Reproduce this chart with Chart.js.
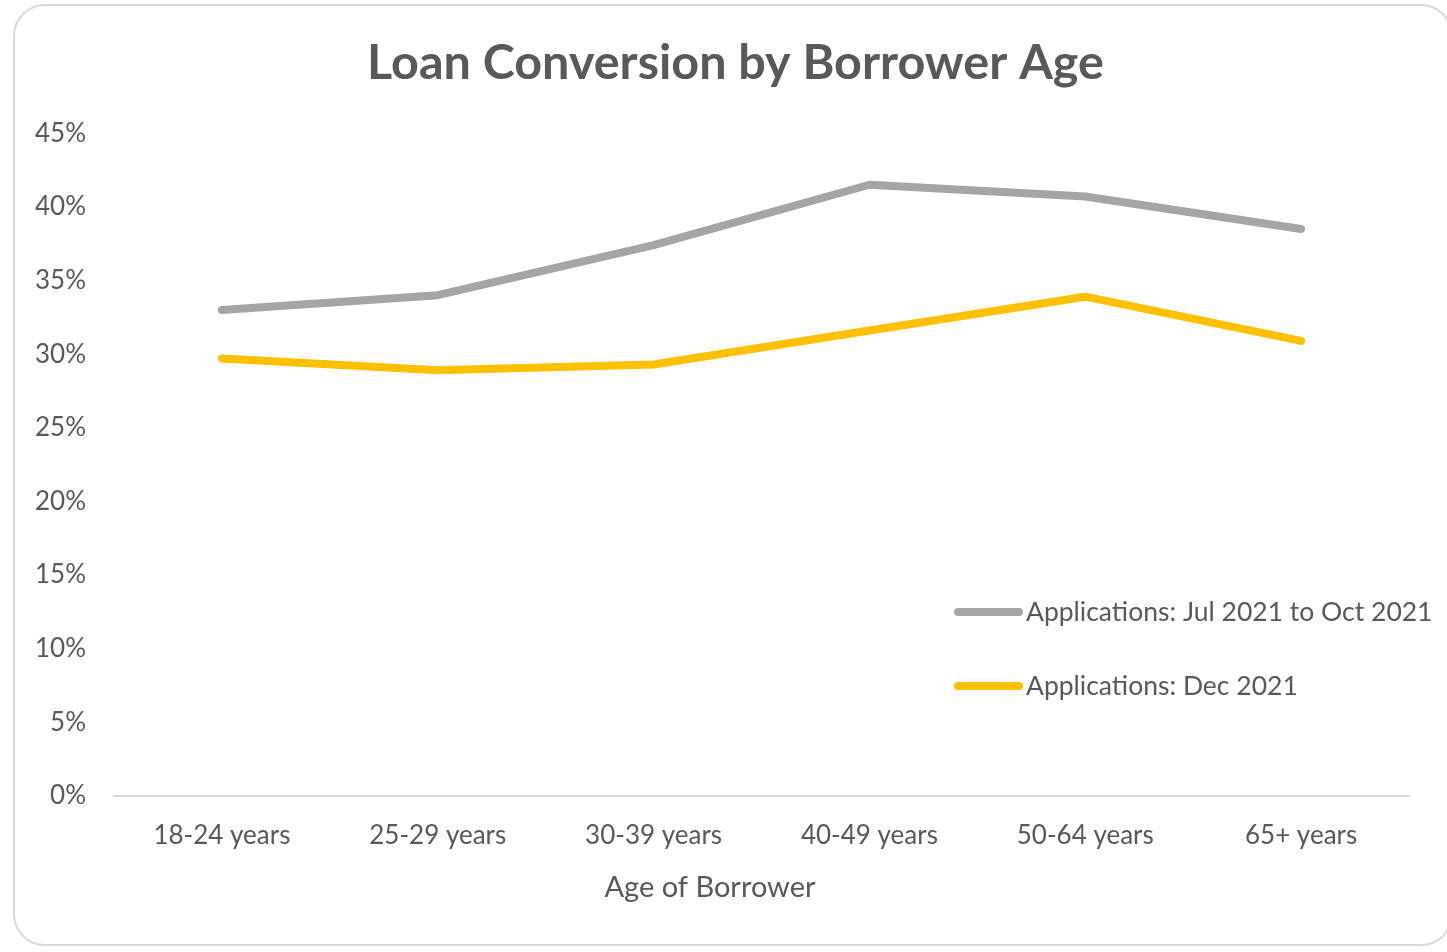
<!DOCTYPE html>
<html>
<head>
<meta charset="utf-8">
<script src="https://cdn.jsdelivr.net/npm/chart.js@4.4.0/dist/chart.umd.min.js"></script>
<style>
  html, body { margin: 0; padding: 0; background: #fff; overflow: hidden; }
  #wrap { position: relative; width: 1447px; height: 952px; overflow: hidden; }
  #frame {
    position: absolute; left: 13px; top: 4px; width: 1440px; height: 942px;
    border: 2px solid #d9d9d9; border-radius: 32px; box-sizing: border-box;
  }
  canvas { position: absolute; left: 0; top: 0; }
</style>
</head>
<body>
<div id="wrap">
  <div id="frame"></div>
  <canvas id="chart" width="1471" height="952"></canvas>
</div>
<script>
// data
const ageGroups = ["18-24 years", "25-29 years", "30-39 years", "40-49 years", "50-64 years", "65+ years"];
const julOct2021 = [33.0, 34.0, 37.4, 41.5, 40.7, 38.5];
const dec2021 = [29.7, 28.9, 29.3, 31.6, 33.9, 30.9];
const seriesNames = ["Applications: Jul 2021 to Oct 2021", "Applications: Dec 2021"];
const xAxisTitle = "Age of Borrower";

const textColor = "#595959";
const fontFamily = "Lato, 'Open Sans', sans-serif";

// legend + axis title drawn by hand, placed like the original
const extras = {
  id: "extras",
  afterDraw(chart) {
    const ctx = chart.ctx;
    const rows = [612, 686];
    ctx.save();
    chart.data.datasets.forEach((ds, i) => {
      const y = rows[i];
      ctx.strokeStyle = ds.borderColor;
      ctx.lineWidth = 8;
      ctx.lineCap = "round";
      ctx.beginPath();
      ctx.moveTo(958, y);
      ctx.lineTo(1019, y);
      ctx.stroke();
      ctx.fillStyle = textColor;
      ctx.font = "26.5px " + fontFamily;
      ctx.textAlign = "left";
      ctx.textBaseline = "middle";
      ctx.fillText(ds.label, 1026, y);
    });
    ctx.font = "29px " + fontFamily;
    ctx.textAlign = "center";
    ctx.fillText(xAxisTitle, 710, 888);
    ctx.restore();
  }
};

new Chart(document.getElementById("chart"), {
  type: "line",
  data: {
    labels: ageGroups,
    datasets: [
      {
        label: seriesNames[0],
        data: julOct2021,
        borderColor: "#a5a5a5",
        borderWidth: 8,
        borderCapStyle: "round",
        borderJoinStyle: "round",
        pointRadius: 0,
        tension: 0
      },
      {
        label: seriesNames[1],
        data: dec2021,
        borderColor: "#ffc000",
        borderWidth: 8,
        borderCapStyle: "round",
        borderJoinStyle: "round",
        pointRadius: 0,
        tension: 0
      }
    ]
  },
  options: {
    responsive: false,
    animation: false,
    layout: { padding: 0 },
    plugins: {
      legend: { display: false },
      tooltip: { enabled: false },
      title: {
        display: true,
        text: "Loan Conversion by Borrower Age",
        color: textColor,
        font: { family: fontFamily, size: 48.5, weight: "bold" },
        padding: { top: 34, bottom: 41 }
      }
    },
    scales: {
      x: {
        offset: true,
        grid: { display: false, drawTicks: false },
        border: { display: true, color: "#d9d9d9", width: 2 },
        ticks: { color: textColor, font: { family: fontFamily, size: 26 }, padding: 24, maxRotation: 0 },
        afterFit(scale) { scale.height = 156; }
      },
      y: {
        min: 0,
        max: 45,
        grid: { display: false, drawTicks: false },
        border: { display: false },
        afterFit(scale) { scale.width = 114; },
        ticks: {
          stepSize: 5,
          color: textColor,
          font: { family: fontFamily, size: 26 },
          padding: 28,
          callback: v => v + "%"
        }
      },
      // empty right axis, only keeps space so the title centres like the original
      yRight: {
        position: "right",
        min: 0,
        max: 45,
        grid: { display: false, drawTicks: false },
        border: { display: false },
        ticks: { display: false },
        afterFit(scale) { scale.width = 62; }
      }
    }
  },
  plugins: [extras]
});
</script>
</body>
</html>
